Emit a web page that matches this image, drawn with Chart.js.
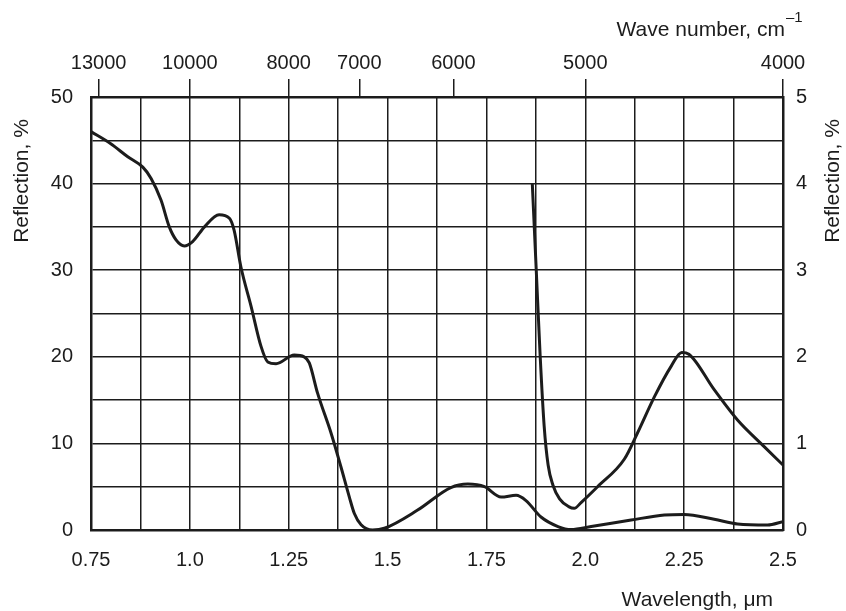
<!DOCTYPE html>
<html>
<head>
<meta charset="utf-8">
<title>Reflection spectrum</title>
<script src="https://cdn.jsdelivr.net/npm/chart.js@4.4.1/dist/chart.umd.min.js"></script>
<style>
  body { margin: 0; background: #fff; }
  canvas { display: block; }
</style>
</head>
<body>
<canvas id="spectrum" width="846" height="611"></canvas>
<script>
// main curve, read on the left axis (0-50 %)
const wlMain = [0.75, 0.80, 0.843, 0.881, 0.902, 0.927, 0.948, 0.965, 0.986, 1.007, 1.037, 1.074, 1.10, 1.112,
    1.129, 1.155, 1.18, 1.197, 1.218, 1.264, 1.289, 1.302, 1.323, 1.357, 1.382, 1.403, 1.416, 1.433, 1.462,
    1.492, 1.576, 1.66, 1.703, 1.745, 1.787, 1.825, 1.85, 1.888, 1.931, 1.964, 2.015, 2.116, 2.20, 2.25,
    2.326, 2.385, 2.461, 2.50];
const reflMain = [46.0, 44.6, 43.1, 41.9, 40.6, 38.1, 35.0, 33.5, 32.8, 33.3, 35.0, 36.4, 36.0, 34.6,
    30.4, 25.8, 21.2, 19.4, 19.2, 20.2, 20.0, 19.3, 15.8, 11.2, 7.3, 3.85, 1.9, 0.6, 0.0,
    0.2, 2.3, 4.9, 5.3, 5.0, 3.8, 4.0, 3.4, 1.5, 0.4, 0.05, 0.4, 1.15, 1.73, 1.8,
    1.24, 0.7, 0.58, 0.96];

// magnified curve, read on the right axis (0-5 %)
const wlFine = [1.866, 1.876, 1.886, 1.896, 1.906, 1.918, 1.935, 1.958, 1.972, 1.99, 2.031, 2.099, 2.132,
    2.175, 2.217, 2.244, 2.262, 2.326, 2.385, 2.453, 2.50];
const reflFine = [4.0, 3.0, 2.0, 1.2, 0.75, 0.52, 0.36, 0.27, 0.25, 0.32, 0.5, 0.82, 1.12,
    1.54, 1.89, 2.05, 2.03, 1.62, 1.27, 0.96, 0.75];

const wlTicks = [0.75, 1.0, 1.25, 1.5, 1.75, 2.0, 2.25, 2.5];
const wlTickLabels = ['0.75', '1.0', '1.25', '1.5', '1.75', '2.0', '2.25', '2.5'];
const waveNumbers = [13000, 10000, 8000, 7000, 6000, 5000, 4000];
const leftTicks = [0, 10, 20, 30, 40, 50];
const rightTicks = [0, 1, 2, 3, 4, 5];

const ink = '#1c1c1c';
const family = '"Liberation Sans", Arial, Helvetica, sans-serif';
const tickFont = { family: family, size: 20 };

function toPoints(xs, ys) {
    return xs.map((x, i) => ({ x: x, y: ys[i] }));
}

function labelFrom(list, labels) {
    return (v) => {
        let i = list.findIndex(t => Math.abs(t - v) < 1e-6);
        return i < 0 ? '' : labels[i];
    };
}

// titles are drawn by hand so the cm^-1 can get a real superscript
const axisTitles = {
    id: 'axisTitles',
    afterDraw(chart) {
        const c = chart.ctx;
        const area = chart.chartArea;
        c.save();
        c.fillStyle = ink;
        c.font = '21px ' + family;
        c.textBaseline = 'alphabetic';
        c.textAlign = 'right';
        c.fillText('Wavelength, μm', area.right - 10, area.bottom + 76);
        c.fillText('Wave number, cm', area.right + 2, 36);
        c.font = '15px ' + family;
        c.textAlign = 'left';
        c.fillText('–1', area.right + 3, 22);

        c.font = '21px ' + family;
        c.textAlign = 'center';
        c.textBaseline = 'middle';
        [22, 833].forEach(x => {
            c.save();
            c.translate(x, 181);
            c.rotate(-Math.PI / 2);
            c.fillText('Reflection, %', 0, 0);
            c.restore();
        });
        c.restore();
    }
};

new Chart(document.getElementById('spectrum'), {
    type: 'line',
    data: {
        datasets: [{
            data: toPoints(wlMain, reflMain),
            xAxisID: 'x',
            yAxisID: 'y',
            borderColor: ink,
            borderWidth: 3,
            pointRadius: 0,
            cubicInterpolationMode: 'monotone'
        }, {
            data: toPoints(wlFine, reflFine),
            xAxisID: 'x',
            yAxisID: 'yRight',
            borderColor: ink,
            borderWidth: 3,
            pointRadius: 0,
            cubicInterpolationMode: 'monotone'
        }]
    },
    options: {
        responsive: false,
        animation: false,
        layout: { padding: 0 },
        plugins: {
            legend: { display: false },
            tooltip: { enabled: false }
        },
        scales: {
            x: {
                type: 'linear',
                position: 'bottom',
                min: 0.75,
                max: 2.5,
                afterBuildTicks: (axis) => {
                    let t = [];
                    for (let i = 0; i <= 14; i++) t.push({ value: 0.75 + i * 0.125 });
                    axis.ticks = t;
                },
                afterFit: (s) => { s.height = 81; },
                grid: { color: ink, lineWidth: 1.5, drawTicks: false },
                border: { color: ink, width: 2.5 },
                ticks: {
                    autoSkip: false,
                    maxRotation: 0,
                    padding: 18,
                    color: ink,
                    font: tickFont,
                    callback: labelFrom(wlTicks, wlTickLabels)
                }
            },
            xTop: {
                type: 'linear',
                position: 'top',
                min: 0.75,
                max: 2.5,
                // wavelength in um = 10000 / wave number in cm^-1
                afterBuildTicks: (axis) => {
                    axis.ticks = waveNumbers.map(n => ({ value: 10000 / n }));
                },
                afterFit: (s) => { s.height = 97; },
                grid: { drawOnChartArea: false, drawTicks: true, tickLength: 18, color: ink, lineWidth: 1.5 },
                border: { color: ink, width: 2.5 },
                ticks: {
                    autoSkip: false,
                    maxRotation: 0,
                    padding: 4,
                    color: ink,
                    font: tickFont,
                    callback: (v, i) => String(waveNumbers[i])
                }
            },
            y: {
                position: 'left',
                min: 0,
                max: 50,
                ticks: {
                    stepSize: 5,
                    padding: 18,
                    color: ink,
                    font: tickFont,
                    callback: labelFrom(leftTicks, leftTicks.map(String))
                },
                afterFit: (s) => { s.width = 91; },
                grid: { color: ink, lineWidth: 1.5, drawTicks: false },
                border: { color: ink, width: 2.5 }
            },
            yRight: {
                position: 'right',
                min: 0,
                max: 5,
                ticks: {
                    stepSize: 1,
                    padding: 13,
                    color: ink,
                    font: tickFont,
                    callback: labelFrom(rightTicks, rightTicks.map(String))
                },
                afterFit: (s) => { s.width = 63; },
                grid: { drawOnChartArea: false, drawTicks: false },
                border: { color: ink, width: 2.5 }
            }
        }
    },
    plugins: [axisTitles]
});
</script>
</body>
</html>
